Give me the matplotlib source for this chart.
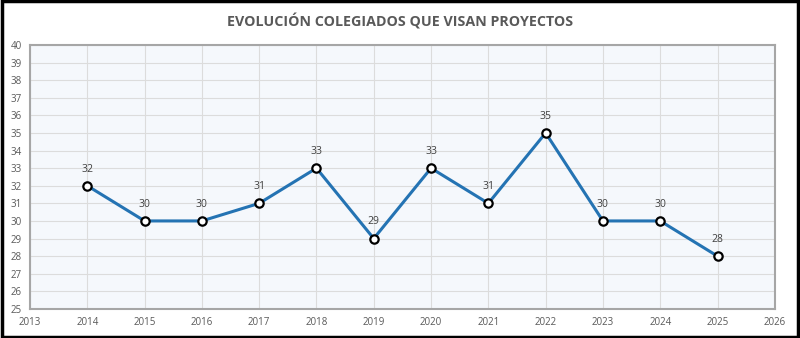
import matplotlib.pyplot as plt
from matplotlib.patches import Rectangle

years = [2014, 2015, 2016, 2017, 2018, 2019, 2020, 2021, 2022, 2023, 2024, 2025]
colegiados = [32, 30, 30, 31, 33, 29, 33, 31, 35, 30, 30, 28]
title = 'EVOLUCIÓN COLEGIADOS QUE VISAN PROYECTOS'

plt.rcParams['font.family'] = ['Open Sans', 'DejaVu Sans']

fig = plt.figure(figsize=(8, 3.38), dpi=100)
fig.patches.append(Rectangle((0.002, 0.003), 0.996, 0.994, transform=fig.transFigure,
                             fill=False, edgecolor='black', linewidth=2.5))
ax = fig.add_axes([0.0375, 0.086, 0.931, 0.781])

ax.plot(years, colegiados, color='#2473b3', linewidth=2.2, marker='o', markersize=6,
        markerfacecolor='white', markeredgecolor='black', markeredgewidth=1.6, zorder=3)
for x, y in zip(years, colegiados):
    ax.annotate(str(y), (x, y), xytext=(0, 8), textcoords='offset points',
                ha='center', va='bottom', fontsize=7.5, color='#404040')

ax.set_xlim(2013, 2026)
ax.set_ylim(25, 40)
ax.set_xticks(range(2013, 2027))
ax.set_yticks(range(25, 41))
ax.set_facecolor('#f5f8fc')
ax.grid(True, color='#dcdcdc', linewidth=0.8)
ax.set_axisbelow(True)
for s in ax.spines.values():
    s.set_color('#a6a6a6')
    s.set_linewidth(1.5)
ax.tick_params(length=0, labelsize=7, colors='#595959', pad=6)

fig.text(0.5, 0.935, title, ha='center', va='center', fontsize=10.3,
         fontweight='bold', color='#595959')

fig.savefig('out.png', dpi=100)
